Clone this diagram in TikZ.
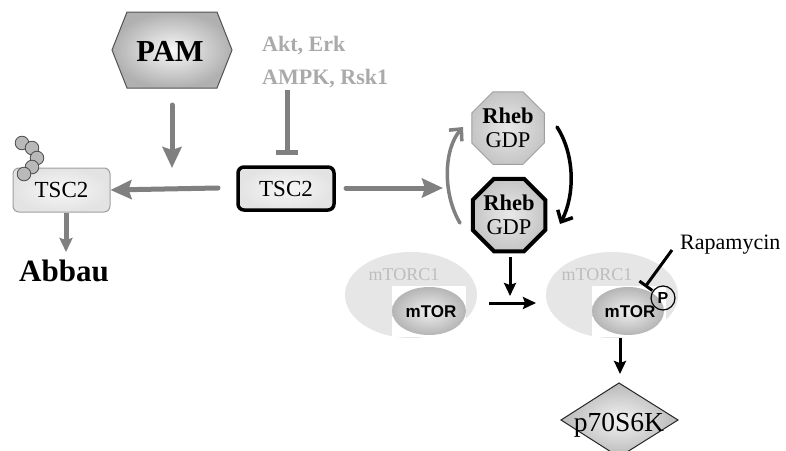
\documentclass[tikz,border=0pt]{standalone}
\usepackage{fontspec}
\setmainfont{Liberation Serif}
\newfontfamily\arialf{Liberation Sans}
\usetikzlibrary{arrows.meta,shapes.geometric}
\definecolor{garr}{HTML}{808080}
\definecolor{lblgray}{HTML}{AAAAAA}
\definecolor{cplx}{HTML}{E6E6E6}
\definecolor{cplxtxt}{HTML}{BDBDBD}
\begin{document}
\begin{tikzpicture}[x=1pt,y=-1pt,
  garrow/.style={draw=garr, line width=5pt, line cap=round, -{Stealth[length=21pt,width=19pt,inset=3pt]}},
  barrow/.style={draw=black, line width=3pt, -{Stealth[length=13pt,width=12pt,inset=2pt]}},
  curvarr/.style={line width=3.5pt, line cap=round, -{Straight Barb[length=9pt,width=17pt,line width=3.5pt]}},
  tscbox/.style={rectangle, rounded corners=6pt, minimum width=97pt, minimum height=44pt,
    inner color=gray!6, outer color=gray!22, font=\fontsize{23}{26}\selectfont},
  rhebbox/.style={regular polygon, regular polygon sides=8, minimum size=76pt, inner sep=0pt,
    inner color=gray!18, outer color=gray!45, align=center, font=\fontsize{22.5}{26}\selectfont},
  cplxlbl/.style={text=cplxtxt, font=\fontsize{18}{20}\selectfont},
  mtorlbl/.style={font=\arialf\bfseries\fontsize{17}{19}\selectfont}
]
\useasboundingbox (0,0) rectangle (786,450);
\fill[white] (0,0) rectangle (786,450);

% PAM hexagon
\path[draw=gray!65!black, line width=1pt, inner color=gray!6, outer color=gray!62]
  (112,50) -- (127,12) -- (217,12) -- (232,50) -- (217,88) -- (127,88) -- cycle;
\node[font=\bfseries\fontsize{30.5}{32}\selectfont] (pam) at (170,51) {PAM};
\coordinate (pamout) at (172,105);
\coordinate (pamin) at (172,168);
\draw[garrow] (pamout) -- (pamin);

% Akt, Erk / AMPK, Rsk1
\node[anchor=base west, inner sep=0pt, text=lblgray, font=\bfseries\fontsize{22}{24}\selectfont] (akt1) at (262,51) {Akt, Erk};
\node[anchor=base west, inner sep=0pt, text=lblgray, font=\bfseries\fontsize{22}{24}\selectfont] (akt2) at (262,84) {AMPK, Rsk1};
\coordinate (aktout) at (287,90);
\coordinate (aktin) at (287,155);
\draw[draw=garr, line width=5pt, -{Bar[width=22pt,line width=5pt]}] (aktout) -- (aktin);

% TSC2 boxes
\node[tscbox, draw=gray!75, line width=1pt] (tscL) at (61.5,190) {TSC2};
\node[tscbox, draw=black, line width=3.5pt, minimum width=96pt, minimum height=43pt] (tscR) at (286,188.5) {TSC2};

% ubiquitin chain
\foreach \p/\q [count=\i] in {22/143, 32/148, 37/158, 32/167, 24/174}
  \path[draw=gray!60!black, line width=0.8pt, fill=gray!55] (\p,\q) circle (6.8pt);

\coordinate (tscRw) at (218,188);
\draw[garrow] (tscRw) -- (tscL.east);
\coordinate (tscLs) at (66,213);
\coordinate (abbin) at (66,252);
\draw[draw=garr, line width=5pt, -{Stealth[length=14pt,width=13pt,inset=2pt]}] (tscLs) -- (abbin);
\node[anchor=base, font=\bfseries\fontsize{31}{32}\selectfont] (abbau) at (64,281) {Abbau};

% TSC2 -> Rheb
\coordinate (tscRe) at (346,188);
\coordinate (rhebin) at (443,188);
\draw[garrow] (tscRe) -- (rhebin);

% Rheb octagons
\node[rhebbox, draw=gray!75, line width=1pt] (rheb1) at (508,128) {\textbf{Rheb}\\[-2pt]GDP};
\node[rhebbox, draw=black, line width=4pt, minimum size=78pt] (rheb2) at (509,215) {\textbf{Rheb}\\[-2pt]GDP};

\coordinate (gcs) at (460,223);
\coordinate (gce) at (463,127);
\draw[curvarr, draw=garr] (gcs) .. controls (443,195) and (443,150) .. (gce);
\coordinate (bcs) at (557,127);
\coordinate (bce) at (560,224);
\draw[curvarr, draw=black] (bcs) .. controls (575,155) and (575,195) .. (bce);

% mTORC1 complexes
\fill[cplx] (411,295) ellipse (66pt and 43pt);
\fill[white] (392,286) rectangle (466,337);
\path[inner color=gray!12, outer color=gray!58] (429,311) ellipse (37pt and 24pt);
\node[cplxlbl] (c1lbl) at (404,275) {mTORC1};
\node[mtorlbl] (mtor1) at (431,312) {mTOR};

\fill[cplx] (612,295) ellipse (66pt and 43pt);
\fill[white] (592,286) rectangle (666,337);
\path[inner color=gray!12, outer color=gray!58] (628,311) ellipse (36pt and 24pt);
\node[cplxlbl] (c2lbl) at (597,275) {mTORC1};
\node[mtorlbl] (mtor2) at (630,312) {mTOR};
\node[circle, draw=black, line width=1.2pt, minimum size=24pt, inner sep=0pt,
  font=\arialf\bfseries\fontsize{16}{18}\selectfont] (phos) at (663,298) {P};

% black arrows
\coordinate (r2out) at (510,257);
\coordinate (r2in) at (510,296);
\draw[barrow] (r2out) -- (r2in);
\coordinate (hout) at (489,303);
\coordinate (hin) at (536,303);
\draw[barrow] (hout) -- (hin);

% Rapamycin
\node[anchor=base west, inner sep=0pt, font=\fontsize{22}{24}\selectfont] (rapa) at (680,249) {Rapamycin};
\coordinate (rapout) at (672,250);
\coordinate (rapin) at (645,287);
\draw[line width=3pt, -{Bar[width=16pt,line width=3pt]}] (rapout) -- (rapin);

% p70S6K
\coordinate (mout) at (620,338);
\coordinate (min) at (620,374);
\draw[barrow] (mout) -- (min);
\path[draw=gray!30!black, line width=1pt, inner color=gray!10, outer color=gray!55]
  (619,383) -- (678,420) -- (619,457) -- (561,420) -- cycle;
\node[anchor=base, font=\fontsize{27.5}{30}\selectfont] (p70) at (619,431) {p70S6K};
\end{tikzpicture}
\end{document}
